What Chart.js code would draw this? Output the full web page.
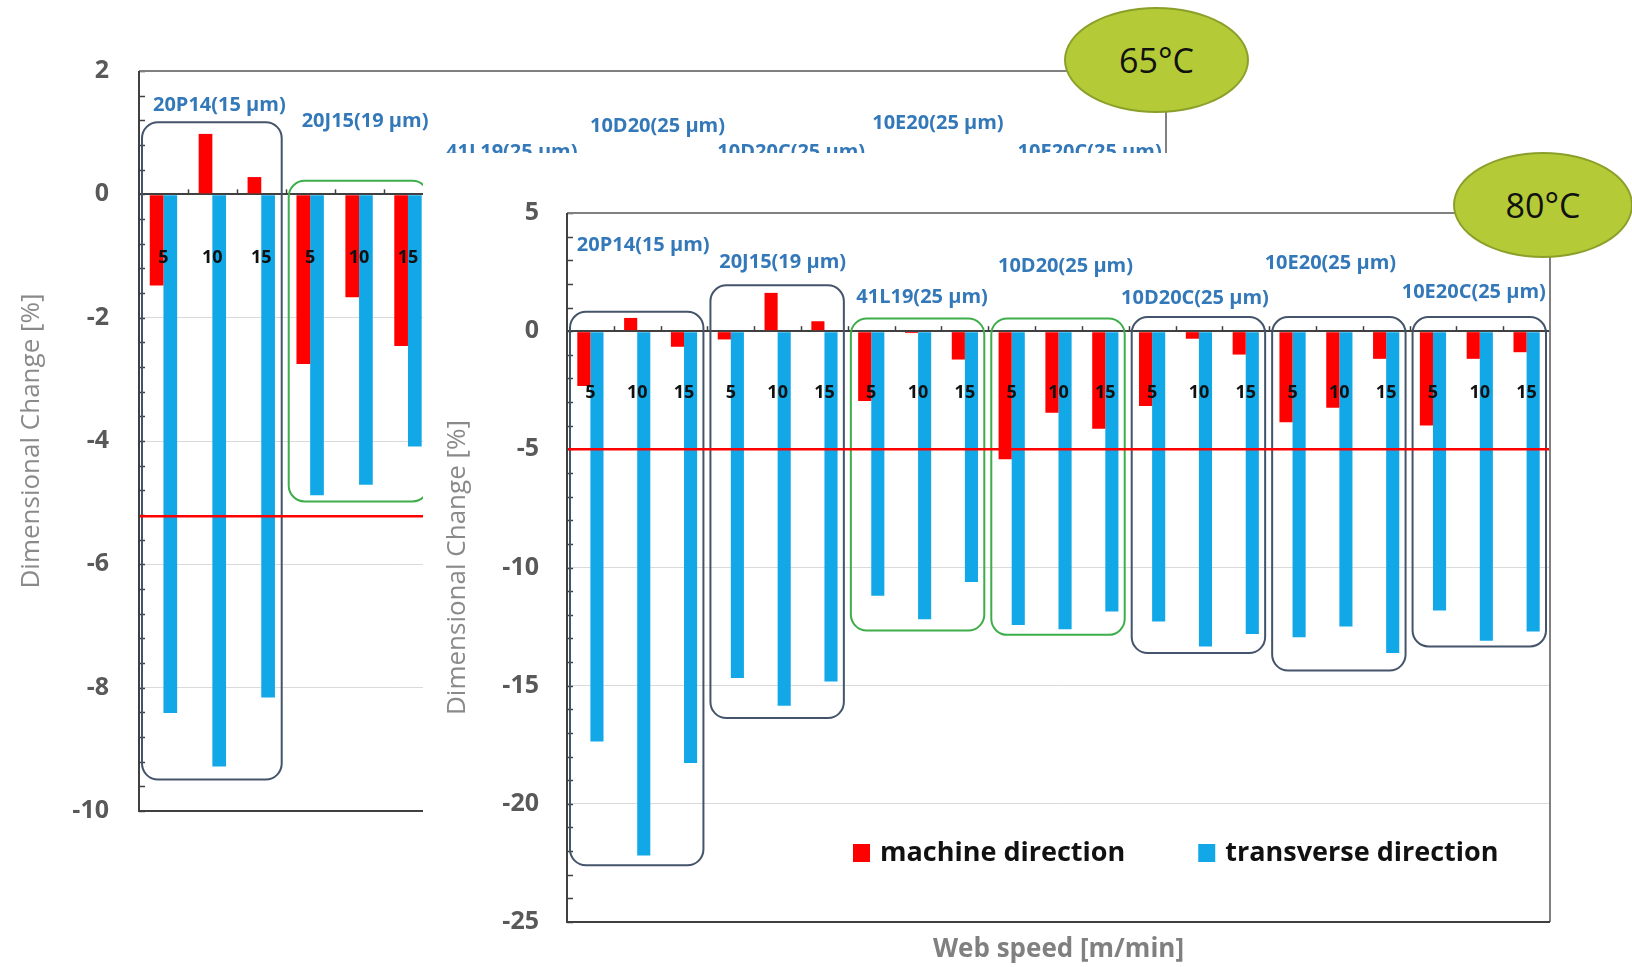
<!DOCTYPE html>
<html lang="en">
<head>
<meta charset="UTF-8">
<title>Dimensional change vs web speed</title>
<script src="https://cdn.jsdelivr.net/npm/chart.js"></script>
<style>
  body { margin: 0; background: #fff; width: 1632px; height: 967px; overflow: hidden; position: relative; font-family: "Open Sans", sans-serif; }
  #back { position: absolute; left: 0; top: 0; }
  #front { position: absolute; left: 423px; top: 153px; width: 1209px; height: 814px; background: #fff; }
  .temp { position: absolute; border-radius: 50%; background: #b4cb37; border: 2px solid #8ba02a; box-sizing: border-box;
          display: flex; align-items: center; justify-content: center; font-size: 34px; color: #111; }
  #t65 { left: 1064px; top: 7px; width: 185px; height: 106px; }
  #t80 { left: 1453px; top: 152px; width: 180px; height: 106px; }
</style>
</head>
<body>
  <canvas id="back" width="1200" height="860"></canvas>
  <div id="front"><canvas id="chart80" width="1209" height="814"></canvas></div>
  <div class="temp" id="t65">65°C</div>
  <div class="temp" id="t80">80°C</div>

<script>
// web speeds [m/min] inside every film group
const speeds = ['5', '10', '15'];
const films = ['20P14(15 µm)', '20J15(19 µm)', '41L19(25 µm)', '10D20(25 µm)', '10D20C(25 µm)', '10E20(25 µm)', '10E20C(25 µm)'];

// 80°C, dimensional change [%]
const md80 = [-2.32, 0.56, -0.66, -0.35, 1.62, 0.42, -2.96, -0.08, -1.2, -5.42, -3.45, -4.13,
              -3.17, -0.32, -0.99, -3.85, -3.24, -1.17, -3.99, -1.17, -0.89];
const td80 = [-17.36, -22.19, -18.27, -14.68, -15.85, -14.82, -11.2, -12.19, -10.61, -12.43, -12.61, -11.86,
              -12.29, -13.34, -12.81, -12.95, -12.5, -13.62, -11.82, -13.1, -12.71];

// 65°C, only the first two films are shown
const md65 = [-1.48, 0.98, 0.28, -2.75, -1.67, -2.46,
              null, null, null, null, null, null, null, null, null, null, null, null, null, null, null];
const td65 = [-8.41, -9.28, -8.16, -4.88, -4.71, -4.09,
              null, null, null, null, null, null, null, null, null, null, null, null, null, null, null];

// shrinkage limits
const limit80 = -5.0;
const limit65 = -5.22;

// frames around film groups: [top, bottom] in %
const frames80 = [[0.82, -22.6], [1.94, -16.37], [0.54, -12.67], [0.54, -12.85], [0.6, -13.62], [0.6, -14.36], [0.6, -13.34]];
const frameColor80 = ['#44546a', '#44546a', '#3dae4a', '#3dae4a', '#44546a', '#44546a', '#44546a'];
const frames65 = [[1.17, -9.49], [0.22, -4.98]];
const frameColor65 = ['#44546a', '#3dae4a'];

// film name heights (in %) and small sideways shifts (px)
const nameY80 = [3.63, 2.93, 1.45, 2.75, 1.38, 2.86, 1.66];
const nameDx80 = [6, 5, 4, 7, -4, -9, -6];
const nameY65 = [1.45, 1.18, 0.68, 1.11, 0.68, 1.15, 0.68];
const nameDx65 = [7, 6, 6, 5, -8, -8, -3];

const categories = films.flatMap(() => speeds);
const FONT = '"Open Sans", sans-serif';

function decorations(o) {
  return {
    id: 'decorations',
    beforeDatasetsDraw(chart) {
      const { ctx, chartArea: a, scales: { x, y } } = chart;
      const n = chart.data.labels.length;
      const step = (x.right - x.left) / n;
      ctx.save();
      ctx.strokeStyle = '#404040';
      ctx.lineWidth = 1.5;
      // minor ticks on the value axis
      const count = Math.round((y.max - y.min) / o.minorStep);
      for (let i = 0; i <= count; i++) {
        const py = Math.round(y.getPixelForValue(y.min + i * o.minorStep)) + 0.5;
        ctx.beginPath(); ctx.moveTo(a.left, py); ctx.lineTo(a.left + 6, py); ctx.stroke();
      }
      // marks on the zero line between categories
      const y0 = y.getPixelForValue(0);
      for (let i = 1; i < n; i++) {
        const px = Math.round(x.left + i * step) + 0.5;
        ctx.beginPath(); ctx.moveTo(px, y0); ctx.lineTo(px, y0 - 5); ctx.stroke();
      }
      ctx.restore();
    },
    afterDatasetsDraw(chart) {
      const { ctx, chartArea: a, scales: { x, y } } = chart;
      const n = chart.data.labels.length;
      const step = (x.right - x.left) / n;
      ctx.save();

      // speed labels
      ctx.fillStyle = '#111';
      ctx.font = 'bold 18px ' + FONT;
      ctx.textAlign = 'center';
      ctx.textBaseline = 'middle';
      chart.data.labels.forEach((lab, i) => {
        ctx.fillText(lab, x.getPixelForValue(i), y.getPixelForValue(o.speedY));
      });

      // group frames
      ctx.lineWidth = 2;
      o.frames.forEach((f, g) => {
        const left = x.left + g * 3 * step + 3;
        const right = x.left + (g + 1) * 3 * step - 4;
        const top = y.getPixelForValue(f[0]);
        const bottom = y.getPixelForValue(f[1]);
        ctx.strokeStyle = o.frameColor[g];
        ctx.beginPath();
        ctx.roundRect(left, top, right - left, bottom - top, 16);
        ctx.stroke();
      });

      // limit line
      ctx.strokeStyle = '#ff0000';
      ctx.lineWidth = 2.5;
      const yl = y.getPixelForValue(o.limit);
      ctx.beginPath(); ctx.moveTo(a.left, yl); ctx.lineTo(a.right, yl); ctx.stroke();

      // film names
      ctx.fillStyle = '#3378b8';
      ctx.font = 'bold 20px ' + FONT;
      films.forEach((name, g) => {
        const cx = x.left + (g * 3 + 1.5) * step + o.nameDx[g];
        ctx.fillText(name, cx, y.getPixelForValue(o.nameY[g]));
      });

      // plot frame
      ctx.lineWidth = 2;
      ctx.strokeStyle = '#808080';
      ctx.beginPath();
      ctx.moveTo(a.left, a.top); ctx.lineTo(a.right, a.top); ctx.lineTo(a.right, a.bottom);
      ctx.stroke();
      ctx.strokeStyle = '#404040';
      ctx.beginPath();
      ctx.moveTo(a.left, a.top); ctx.lineTo(a.left, a.bottom); ctx.lineTo(a.right, a.bottom);
      ctx.stroke();

      // legend inside the plot
      if (o.legend) {
        ctx.font = 'bold 27px ' + FONT;
        ctx.textAlign = 'left';
        let lx = a.left + 286;
        const ly = a.bottom - 69;
        chart.data.datasets.forEach(ds => {
          ctx.fillStyle = ds.backgroundColor;
          ctx.fillRect(lx, ly - 9, 17, 18);
          ctx.fillStyle = '#111';
          ctx.fillText(ds.label, lx + 27, ly);
          lx += 27 + ctx.measureText(ds.label).width + 73;
        });
      }
      ctx.restore();
    }
  };
}

function makeChart(canvas, md, td, o) {
  return new Chart(document.getElementById(canvas), {
    type: 'bar',
    data: {
      labels: categories,
      datasets: [
        { label: 'machine direction', data: md, backgroundColor: '#ff0000', categoryPercentage: 0.56, barPercentage: 1 },
        { label: 'transverse direction', data: td, backgroundColor: '#12a8e8', categoryPercentage: 0.56, barPercentage: 1 }
      ]
    },
    options: {
      responsive: false,
      animation: false,
      layout: { padding: { top: o.padTop, right: o.padRight, left: 0, bottom: 0 } },
      plugins: { legend: { display: false }, tooltip: { enabled: false } },
      scales: {
        x: {
          ticks: { display: false },
          grid: { display: false },
          border: { display: false },
          title: {
            display: !!o.xTitle, text: o.xTitle || '', color: '#808080',
            font: { family: FONT, size: 26, weight: 'bold' }, padding: { top: 0, bottom: 2 }
          },
          afterFit: s => { s.height = o.xHeight; }
        },
        y: {
          min: o.min, max: o.max,
          ticks: { stepSize: o.step, padding: o.tickPad, color: '#595959', font: { family: FONT, size: 25, weight: 'bold' } },
          grid: {
            drawTicks: false,
            color: c => c.tick.value === 0 ? '#404040' : '#dadada',
            lineWidth: c => c.tick.value === 0 ? 2 : 1
          },
          border: { display: false },
          title: {
            display: true, text: 'Dimensional Change [%]', color: '#8a8a8a',
            font: { family: FONT, size: 26 }, padding: { top: o.yTitlePad, bottom: 0 }
          },
          afterFit: s => { s.width = o.yWidth; }
        }
      }
    },
    plugins: [decorations(o)]
  });
}

// 65°C chart, partly covered by the 80°C panel
makeChart('back', md65, td65, {
  min: -10, max: 2, step: 2, minorStep: 0.4,
  padTop: 71, padRight: 34, xHeight: 49, yWidth: 139, tickPad: 30, yTitlePad: 16,
  speedY: -1.03, limit: limit65, frames: frames65, frameColor: frameColor65,
  nameY: nameY65, nameDx: nameDx65, legend: false
});

// 80°C chart
makeChart('chart80', md80, td80, {
  min: -25, max: 5, step: 5, minorStep: 1,
  padTop: 60, padRight: 82, xHeight: 45, yWidth: 144, tickPad: 28, yTitlePad: 19,
  xTitle: 'Web speed [m/min]',
  speedY: -2.62, limit: limit80, frames: frames80, frameColor: frameColor80,
  nameY: nameY80, nameDx: nameDx80, legend: true
});
</script>
</body>
</html>
